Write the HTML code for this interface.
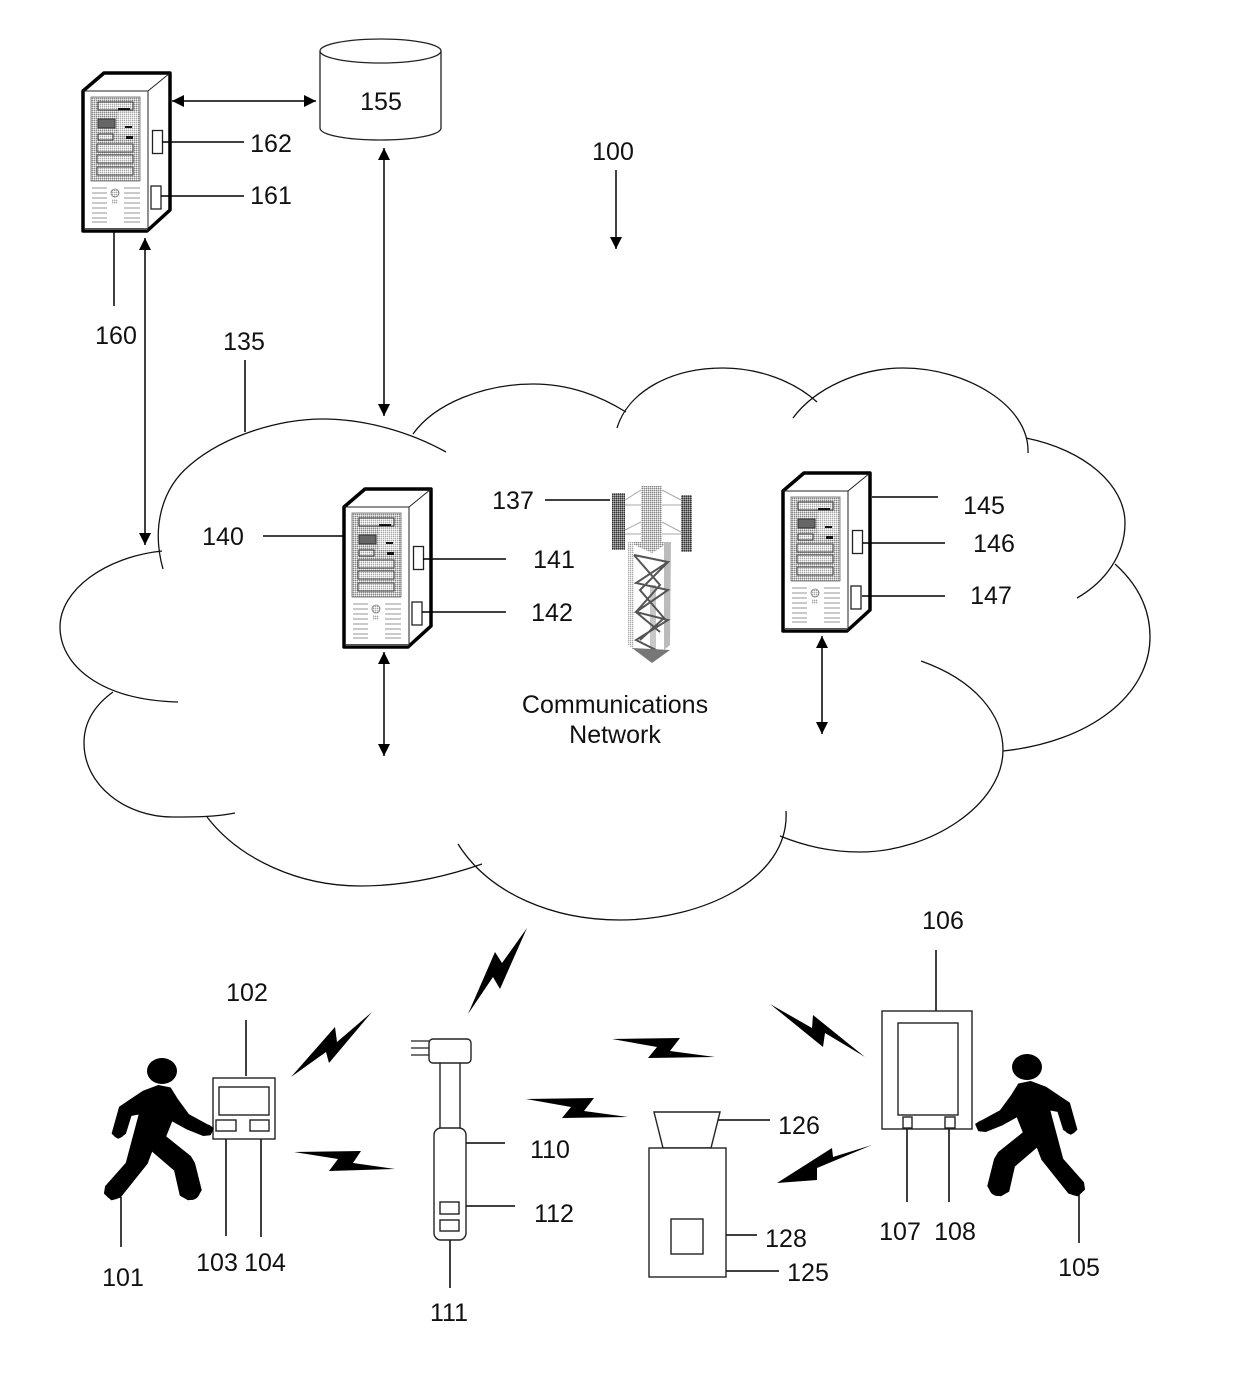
<!DOCTYPE html>
<html><head><meta charset="utf-8"><style>
html,body{margin:0;padding:0;background:#fff}
svg{display:block}
text{font-family:"Liberation Sans",sans-serif;font-size:25px;fill:#111;text-anchor:middle}
</style></head><body>
<svg width="1240" height="1374" viewBox="0 0 1240 1374" xmlns="http://www.w3.org/2000/svg">
<defs>
<marker id="a" viewBox="0 0 12 12" refX="12" refY="6" markerWidth="12" markerHeight="12" markerUnits="userSpaceOnUse" orient="auto-start-reverse"><path d="M0,0L12,6L0,12Z" fill="#000"/></marker>
<pattern id="st" width="2" height="2" patternUnits="userSpaceOnUse"><rect width="2" height="2" fill="#c4c4c4"/><rect width="1" height="1" fill="#888"/><rect x="1" y="1" width="1" height="1" fill="#f4f4f4"/></pattern>
<pattern id="st2" width="2" height="2" patternUnits="userSpaceOnUse"><rect width="2" height="2" fill="#ddd"/><rect width="1" height="1" fill="#aaa"/><rect x="1" y="1" width="1" height="1" fill="#fff"/></pattern>
<pattern id="st3" width="2" height="2" patternUnits="userSpaceOnUse"><rect width="2" height="2" fill="#777"/><rect width="1" height="1" fill="#333"/><rect x="1" y="1" width="1" height="1" fill="#bbb"/></pattern>
<g id="srv">
<path d="M83,91L104,73L170,73L170,210L147,231L83,231Z" fill="#fff" stroke="#000" stroke-width="3.5" stroke-linejoin="round"/>
<path d="M83,91H148L170,73M148,91V231" fill="none" stroke="#222" stroke-width="1"/>
<rect x="85" y="228" width="62" height="2" fill="#555"/>
<rect x="91" y="97" width="49" height="84" fill="url(#st)" stroke="#666" stroke-width=".8"/>
<rect x="98" y="102" width="35" height="8" fill="url(#st2)" stroke="#333"/>
<rect x="98" y="119" width="17" height="9" fill="#666" stroke="#333"/>
<rect x="118" y="112" width="20" height="22" fill="url(#st2)"/>
<rect x="98" y="134" width="15" height="6" fill="url(#st2)" stroke="#333"/>
<rect x="97" y="144" width="36" height="8" fill="url(#st2)" stroke="#444"/>
<rect x="97" y="155" width="36" height="8" fill="url(#st2)" stroke="#444"/>
<rect x="97" y="167" width="36" height="8" fill="url(#st2)" stroke="#444"/>
<rect x="126" y="136" width="7" height="3" fill="#111"/><rect x="125" y="126" width="7" height="2" fill="#111"/><rect x="118" y="108" width="12" height="2" fill="#111"/>
<path d="M92,188h15M92,193h15M92,198h15M92,203h15M92,208h15M92,213h15M92,218h15M92,222h15M124,188h16M124,193h16M124,198h16M124,203h16M124,208h16M124,213h16M124,218h16M124,222h16" stroke="#aaa" stroke-width="1.200" fill="none"/>
<circle cx="115" cy="193" r="4" fill="url(#st2)" stroke="#777" stroke-width=".8"/><rect x="112" y="199" width="6" height="5" fill="url(#st2)"/>
<rect x="152.500" y="130.500" width="10" height="23" fill="#fff" stroke="#222" stroke-width="1.300"/>
<rect x="151" y="186" width="10" height="23" fill="#fff" stroke="#222" stroke-width="1.300"/>
</g>
<g id="person" fill="#000" stroke="#000" stroke-linejoin="round">
<ellipse cx="162" cy="1071" rx="15" ry="13" stroke="none"/>
<polygon stroke-width="2" points="158.300,1086 170,1088.300 177.300,1100 188.300,1115 206.700,1125 212.700,1128.300 210,1134.300 203.300,1135 186.700,1128.300 171.700,1120 165,1136.700 190,1156.700 194,1163.300 200.700,1190 196.700,1196.700 188.300,1199.300 180.700,1195 175,1170 151.700,1150 146.700,1163.300 120,1196.700 111.700,1199.300 105,1193.300 106,1186.700 126.700,1163.300 140,1113.300 130.700,1115 125,1133.300 118.300,1137.700 112.700,1133.300 120,1107.300 143.300,1091.700"/>
<circle cx="113.500" cy="1191" r="8.500" stroke="none"/>
<circle cx="191" cy="1191" r="9" stroke="none"/>
<circle cx="207" cy="1130" r="5.500" stroke="none"/>
<circle cx="118.500" cy="1132" r="6" stroke="none"/>
</g>
</defs>

<g fill="none" stroke="#111" stroke-width="1.300">
<path d="M163,569C152,530 160,490 190,465C225,435 280,419 323,419C365,419 410,432 446,452"/>
<path d="M162,551C105,557 60,590 60,627C60,665 100,700 178,702"/>
<path d="M113,692C95,705 84,722 84,743C84,785 125,817 173,817C195,817 215,817 235,813"/>
<path d="M207,817C240,860 300,886 360,886C405,886 445,877 482,864"/>
<path d="M458,844C490,895 555,920 620,920C700,920 790,880 786,811"/>
<path d="M921,661C975,680 1003,715 1003,750C1003,805 930,852 860,852C830,852 805,846 780,836"/>
<path d="M1003,751C1090,742 1150,695 1150,637C1150,605 1135,582 1115,564"/>
<path d="M1026,438C1085,450 1125,485 1125,523C1125,555 1105,582 1077,598"/>
<path d="M793,418C815,388 860,368 903,368C965,368 1030,405 1028,453"/>
<path d="M617,428C628,392 670,368 723,368C760,368 795,382 817,402"/>
<path d="M413,434C435,403 485,384 533,384C570,384 600,396 626,412"/>
</g>

<use href="#srv"/>
<use href="#srv" x="261" y="416"/>
<use href="#srv" x="700" y="400"/>

<path d="M320,51V128C320,135 347,140 380,140C414,140 441,135 441,128V51" fill="#fff" stroke="#222" stroke-width="1.300"/>
<ellipse cx="380.500" cy="51" rx="60.500" ry="12" fill="#fff" stroke="#222" stroke-width="1.300"/>

<g fill="none" stroke="#000" stroke-width="1.500">
<path d="M172,101H316" marker-start="url(#a)" marker-end="url(#a)"/>
<path d="M384,148V416" marker-start="url(#a)" marker-end="url(#a)"/>
<path d="M145,238V545" marker-start="url(#a)" marker-end="url(#a)"/>
<path d="M616,170V249" marker-end="url(#a)"/>
<path d="M384,652V756" marker-start="url(#a)" marker-end="url(#a)"/>
<path d="M822,636V734" marker-start="url(#a)" marker-end="url(#a)"/>
<path d="M162,142H244M161,196H244M114,232V306M245,360V432M263,536H343M545,500H610M423,559H506M422,612H506M872,497H938M863,543H945M862,596H945M246,1020V1076M226,1131V1236M261,1131V1237M121,1197V1247M466,1143H505M459,1206H515M450,1232V1288M718,1120H770M703,1235H757M726,1271H779M907,1129V1202M949,1129V1202M936,950V1011M1079,1190V1243"/>
</g>

<g fill="#000">
<polygon points="291,1077 335,1027 337,1042 372,1012 329,1063 326,1052"/>
<polygon points="294,1152 361,1151 353,1163 395,1169 329,1171 338,1159"/>
<polygon points="527,928 500,989 493,977 468,1014 495,952 502,963"/>
<polygon points="612,1039 680,1038 670,1051 715,1057 648,1058 657,1047"/>
<polygon points="526,1099 594,1098 584,1111 628,1117 562,1118 571,1107"/>
<polygon points="770,1004 812,1028 813,1015 865,1057 825,1033 823,1047"/>
<polygon points="777,1183 832,1148 833,1157 872,1145 817,1168 817,1180"/>
</g>

<!-- tower -->
<g>
<rect x="612" y="493" width="13" height="57" fill="url(#st3)"/>
<rect x="681" y="495" width="11" height="57" fill="url(#st3)"/>
<rect x="641" y="486" width="21" height="56" fill="url(#st)"/>
<path d="M625,500L641,490M625,505H641M625,530L641,522M625,534H641M662,490L681,500M662,505H681M662,522L681,532M662,534H681" stroke="#aaa" stroke-width="1" fill="none"/>
<polygon points="628,542 670,542 652,553" fill="url(#st)"/>
<polygon points="628,542 634,542 634,650 628,645" fill="url(#st2)"/>
<polygon points="664,542 671,542 670,645 664,650" fill="#bbb"/>
<rect x="650" y="585" width="6" height="70" fill="#c8c8c8"/>
<path d="M634,555L668,562L636,583L668,590L636,612L668,620L636,640L660,652M634,555L660,585L636,612L660,632M668,562L640,590L664,618L640,640" fill="none" stroke="#555" stroke-width="2"/>
<polygon points="632,648 670,650 652,663" fill="#777"/>
</g>

<!-- device 102 -->
<g fill="#fff" stroke="#222" stroke-width="1.400">
<rect x="213" y="1078" width="62" height="61"/>
<rect x="219" y="1087" width="50" height="28"/>
<rect x="216" y="1120" width="20" height="11"/>
<rect x="250" y="1120" width="19" height="11"/>
<!-- device 110 -->
<rect x="429" y="1039" width="42" height="24" rx="4"/>
<path d="M440,1063V1128M460,1063V1128"/>
<rect x="434" y="1128" width="32" height="112" rx="7"/>
<rect x="440" y="1202" width="19" height="12"/>
<rect x="440" y="1220" width="19" height="11"/>
<!-- device 125 -->
<polygon points="654,1112 720,1112 711,1148 663,1148"/>
<rect x="649" y="1148" width="77" height="129"/>
<rect x="671" y="1219" width="32" height="35"/>
<!-- device 106 -->
<rect x="882" y="1011" width="90" height="118"/>
<rect x="898" y="1023" width="60" height="92"/>
<rect x="903" y="1117" width="9" height="11"/>
<rect x="945" y="1117" width="10" height="11"/>
</g>
<path d="M411,1041H429M411,1048H429M411,1055H429" stroke="#222" stroke-width="1.200"/>

<use href="#person"/>
<use href="#person" transform="translate(1189,-4) scale(-1,1)"/>

<text x="381" y="110">155</text>
<text x="271" y="152">162</text>
<text x="271" y="204">161</text>
<text x="613" y="160">100</text>
<text x="116" y="344">160</text>
<text x="244" y="350">135</text>
<text x="223" y="545">140</text>
<text x="513" y="509">137</text>
<text x="554" y="568">141</text>
<text x="552" y="621">142</text>
<text x="984" y="514">145</text>
<text x="994" y="552">146</text>
<text x="991" y="604">147</text>
<text x="615" y="713">Communications</text>
<text x="615" y="743">Network</text>
<text x="247" y="1001">102</text>
<text x="217" y="1271">103</text>
<text x="265" y="1271">104</text>
<text x="123" y="1286">101</text>
<text x="550" y="1158">110</text>
<text x="554" y="1222">112</text>
<text x="449" y="1321">111</text>
<text x="799" y="1134">126</text>
<text x="786" y="1247">128</text>
<text x="808" y="1281">125</text>
<text x="943" y="929">106</text>
<text x="900" y="1240">107</text>
<text x="955" y="1240">108</text>
<text x="1079" y="1276">105</text>
</svg>
</body></html>
